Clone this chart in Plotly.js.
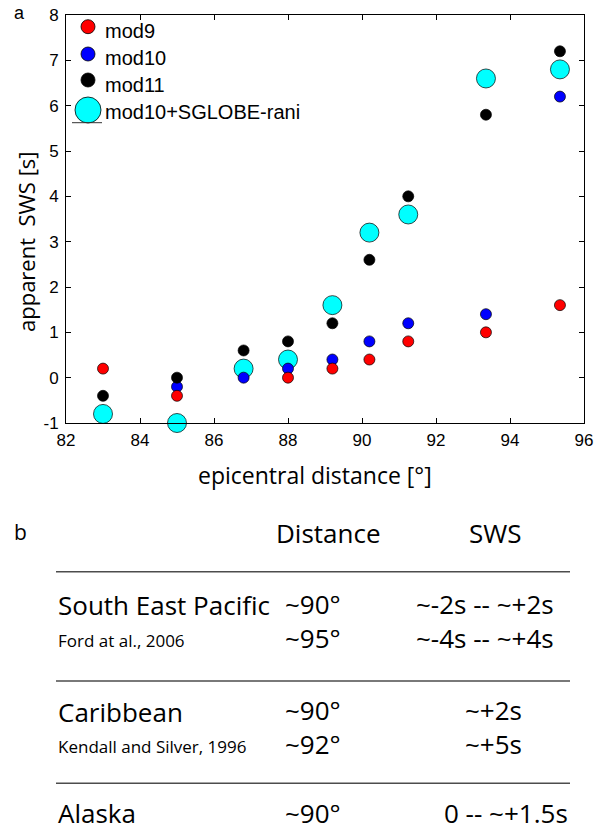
<!DOCTYPE html>
<html><head><meta charset="utf-8">
<script src="https://cdn.plot.ly/plotly-3.0.1.min.js"></script>
<style>html,body{margin:0;padding:0;background:#fff;}#chart{width:596px;height:833px;}</style>
</head><body><div id="chart"></div>
<script>
// ---- data ----
const distance = [83.0, 85.0, 86.8, 88.0, 89.2, 90.2, 91.25, 93.35, 95.35];
const mod9     = [0.2, -0.4, null, 0.0, 0.2, 0.4, 0.8, 1.0, 1.6];
const mod10    = [null, -0.2, 0.0, 0.2, 0.4, 0.8, 1.2, 1.4, 6.2];
const mod11    = [-0.4, 0.0, 0.6, 0.8, 1.2, 2.6, 4.0, 5.8, 7.2];
const mod10SG  = [-0.8, -1.0, 0.2, 0.4, 1.6, 3.2, 3.6, 6.6, 6.8];
const seriesNames = ['mod9', 'mod10', 'mod11', 'mod10+SGLOBE-rani'];
const yTickVals = [-1, 0, 1, 2, 3, 4, 5, 6, 7, 8];
const yTickText = ['-1', '0', '1', '2', '3', '4', '5', '6', '7', '8'];
const xTickVals = [82, 84, 86, 88, 90, 92, 94, 96];
const xTickText = ['82', '84', '86', '88', '90', '92', '94', '96'];

// table (panel b)
const tableHeaders = ['Distance', 'SWS'];
const regions   = ['South East Pacific', 'Caribbean', 'Alaska'];
const refs      = ['Ford at al., 2006', 'Kendall and Silver, 1996', ''];
const dist1     = ['~90°', '~90°', '~90°'];
const dist2     = ['~95°', '~92°', ''];
const sws1      = ['~-2s -- ~+2s', '~+2s', '0 -- ~+1.5s'];
const sws2      = ['~-4s -- ~+4s', '~+5s', ''];

// ---- layout geometry (pixels) ----
const W = 596, H = 833;
const PL = 66, PR = 584, PT = 15, PB = 423;
const px2x = p => (p - PL) / (PR - PL);
const py2y = p => (PB - p) / (PB - PT);
const OS = 'Open Sans', LS = 'Liberation Sans';
function ann(text, px, base, fs, fam, xanchor) {
  const off = fam === OS ? 0.388 : 0.3465;
  return {text: text, x: px2x(px), y: py2y(base - off * fs), xref: 'paper', yref: 'paper',
    xanchor: xanchor || 'left', yanchor: 'middle', showarrow: false, borderpad: 0,
    font: {family: fam, size: fs, color: '#000'}};
}
// two lines of the same size in one text block
function ann2(t1, t2, px, base1, base2, fs, xanchor) {
  if (!t2) return ann(t1, px, base1, fs, OS, xanchor);
  const a = ann(t1 + '<br>' + t2, px, (base1 + base2) / 2, fs, OS, xanchor);
  a.align = 'center';
  return a;
}

const colors = ['#ff0000', '#0000ff', '#000000', '#00ffff'];
function trace(y, i, size) {
  return {x: distance, y: y, type: 'scatter', mode: 'markers', name: seriesNames[i],
    showlegend: false, cliponaxis: false,
    marker: {color: colors[i], size: size, line: {color: '#000', width: 0.7}}};
}
const data = [trace(mod10SG, 3, 19), trace(mod10, 1, 11), trace(mod9, 0, 11), trace(mod11, 2, 11)];

const annotations = [];
const shapes = [];
// panel labels
annotations.push(ann('a', 13, 19, 18, LS));
annotations.push(ann('b', 13, 540, 21, OS));
// axis titles
annotations.push(ann('epicentral distance [°]', 315, 483.5, 23, OS, 'center'));
annotations.push({text: 'apparent\u00a0 SWS [s]', x: px2x(26), y: py2y(242), xref: 'paper', yref: 'paper',
  xanchor: 'center', yanchor: 'middle', textangle: -90, showarrow: false,
  font: {family: OS, size: 22, color: '#000'}});
// legend (drawn manually to get the large symbols)
const legY = [26.7, 54, 80, 110];
const legBase = [38.3, 65, 91.7, 119.3];
const legSize = [14, 14, 14, 26];
for (let i = 0; i < 4; i++) {
  const r = legSize[i] / 2;
  shapes.push({type: 'circle', xref: 'paper', yref: 'paper', xsizemode: 'pixel', ysizemode: 'pixel',
    xanchor: px2x(88), yanchor: py2y(legY[i]), x0: -r, x1: r, y0: -r, y1: r,
    fillcolor: colors[i], line: {color: '#000', width: 0.8}, layer: 'above'});
  annotations.push(ann(seriesNames[i], 104, legBase[i], 20, LS));
}
shapes.push({type: 'line', xref: 'paper', yref: 'paper', x0: px2x(72), x1: px2x(102), y0: py2y(122.7), y1: py2y(122.7),
  line: {color: '#333', width: 1}});

// table
annotations.push(ann(tableHeaders[0], 328, 543, 26, OS, 'center'));
annotations.push(ann(tableHeaders[1], 495, 543, 26, OS, 'center'));
const ruleY = [571.7, 681, 783.3];
ruleY.forEach(y => shapes.push({type: 'line', xref: 'paper', yref: 'paper', x0: px2x(56), x1: px2x(570),
  y0: py2y(y), y1: py2y(y), line: {color: '#4d4d4d', width: 1.5}}));
const rowBase = [615, 722, 823];
const subBase = [647, 753, 855];
const distCx = 313;
const swsCx = [484.5, 493, 506];
for (let i = 0; i < regions.length; i++) {
  annotations.push(ann(regions[i], 57, rowBase[i], 26, OS));
  annotations.push(ann2(dist1[i], dist2[i], distCx, rowBase[i], subBase[i], 26, 'center'));
  annotations.push(ann2(sws1[i], sws2[i], swsCx[i], rowBase[i], subBase[i], 26, 'center'));
  if (refs[i]) annotations.push(ann(refs[i], 57, subBase[i], 17, OS));
}

const axisCommon = {ticks: 'inside', ticklen: 5, tickwidth: 1, tickcolor: '#000', showline: true,
  linecolor: '#000', linewidth: 1, mirror: 'ticks', showgrid: false, zeroline: false,
  tickfont: {family: LS, size: 17, color: '#000'}, fixedrange: true};
const layout = {
  width: W, height: H, paper_bgcolor: '#fff', plot_bgcolor: '#fff', showlegend: false,
  margin: {l: PL, r: W - PR, t: PT, b: H - PB, pad: 0},
  xaxis: Object.assign({}, axisCommon, {range: [82, 96], tickmode: 'array', tickvals: xTickVals, ticktext: xTickText, ticklabelstandoff: 2}),
  yaxis: Object.assign({}, axisCommon, {range: [-1, 8], tickmode: 'array', tickvals: yTickVals, ticktext: yTickText, ticklabelstandoff: 3}),
  annotations: annotations, shapes: shapes
};
Plotly.newPlot('chart', data, layout, {staticPlot: true, displayModeBar: false});
</script></body></html>
